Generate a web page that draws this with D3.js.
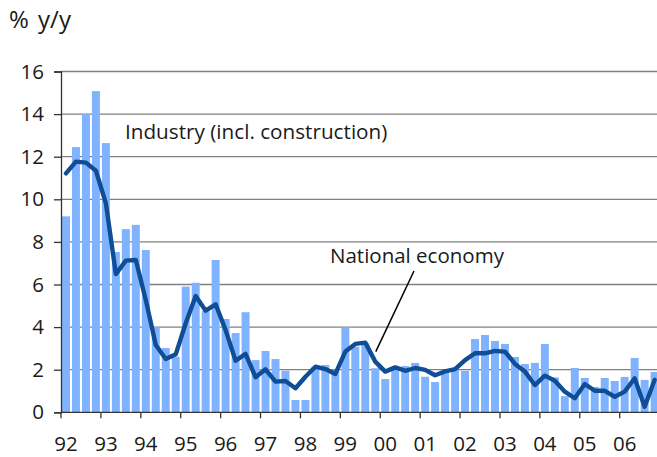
<!DOCTYPE html>
<html>
<head>
<meta charset="utf-8">
<script src="https://cdn.jsdelivr.net/npm/d3@7"></script>
<style>
  body { margin: 0; background: #fff; }
  svg text { font-family: "Open Sans", sans-serif; fill: #1a1a1a; }
  .grid line { stroke: #808080; stroke-width: 1.3; }
</style>
</head>
<body>
<div id="chart"></div>
<script>
// year labels, one per 4 quarters (1992 Q1 .. 2006 Q4)
var years = ["92", "93", "94", "95", "96", "97", "98", "99", "00", "01", "02", "03", "04", "05", "06"];

// Industry (incl. construction), % y/y, quarterly
var industry = [9.2, 12.45, 14.0, 15.08, 12.64, 7.53, 8.6, 8.8,
  7.62, 3.98, 3.02, 2.61, 5.9, 6.08, 4.75, 7.15,
  4.38, 3.72, 4.7, 2.45, 2.88, 2.5, 1.95, 0.58,
  0.58, 2.14, 2.22, 2.0, 3.98, 3.08, 3.24, 2.07,
  1.56, 2.14, 2.17, 2.32, 1.67, 1.42, 1.91, 1.98,
  1.95, 3.44, 3.63, 3.35, 3.21, 2.6, 2.27, 2.32,
  3.21, 1.64, 0.76, 2.08, 1.61, 1.19, 1.61, 1.47,
  1.66, 2.55, 1.52, 1.89];

// National economy, % y/y, quarterly
var national = [11.22, 11.77, 11.72, 11.34, 9.81, 6.49, 7.12, 7.15,
  5.27, 3.16, 2.5, 2.72, 4.18, 5.46, 4.77, 5.07,
  3.86, 2.42, 2.74, 1.65, 2.02, 1.44, 1.47, 1.13,
  1.67, 2.14, 2.03, 1.8, 2.85, 3.21, 3.27, 2.38,
  1.91, 2.11, 1.95, 2.08, 1.99, 1.74, 1.92, 2.03,
  2.45, 2.77, 2.77, 2.88, 2.85, 2.27, 1.91, 1.28,
  1.72, 1.48, 0.97, 0.66, 1.33, 1.01, 1.01, 0.73,
  0.97, 1.6, 0.26, 1.52];

var yTicks = [0, 2, 4, 6, 8, 10, 12, 14, 16];

var W = 657, H = 457;
var plot = {left: 61, right: 659.6, top: 71.5, bottom: 412.3};

var svg = d3.select("#chart").append("svg")
    .attr("width", W)
    .attr("height", H);

var quarters = d3.range(industry.length);

var xScale = d3.scaleBand().domain(quarters).range([plot.left, plot.right])
    .paddingInner(0.2).paddingOuter(0.1);
var step = xScale.step();
// position of the boundary before quarter i
function edge(i) { return plot.left + i * step; }
function mid(i) { return xScale(i) + xScale.bandwidth() / 2; }

var yScale = d3.scaleLinear().domain([0, 16]).range([plot.bottom, plot.top]);

// gridlines
svg.append("g").attr("class", "grid")
  .selectAll("line")
  .data(yTicks.filter(function(d) { return d > 0; }))
  .enter().append("line")
  .attr("x1", plot.left).attr("x2", W)
  .attr("y1", function(d) { return yScale(d); })
  .attr("y2", function(d) { return yScale(d); });

// bars
svg.append("g").selectAll("rect")
  .data(industry)
  .enter().append("rect")
  .attr("x", function(d, i) { return xScale(i); })
  .attr("width", xScale.bandwidth())
  .attr("y", function(d) { return yScale(d); })
  .attr("height", function(d) { return yScale(0) - yScale(d); })
  .attr("fill", "#80b3ff");

// national economy line
var line = d3.line()
  .x(function(d, i) { return mid(i); })
  .y(function(d) { return yScale(d); });

svg.append("path")
  .datum(national)
  .attr("d", line)
  .attr("fill", "none")
  .attr("stroke", "#0f4e96")
  .attr("stroke-width", 4.4)
  .attr("stroke-linejoin", "round")
  .attr("stroke-linecap", "round");

// y axis
var yAxis = d3.axisLeft(yScale).tickValues(yTicks).tickSize(7).tickPadding(10);
var gy = svg.append("g")
  .attr("transform", "translate(" + plot.left + ",0)")
  .call(yAxis);
gy.select(".domain").attr("stroke", "#333").attr("stroke-width", 1.3);
gy.selectAll(".tick line").attr("stroke", "#333").attr("stroke-width", 1.3);
gy.selectAll(".tick text").style("font-size", "20.5px").attr("fill", "#1a1a1a");

// x axis
svg.append("line")
  .attr("x1", plot.left).attr("x2", W)
  .attr("y1", plot.bottom).attr("y2", plot.bottom)
  .attr("stroke", "#333").attr("stroke-width", 1.3);

svg.append("g").selectAll("line")
  .data(years)
  .enter().append("line")
  .attr("x1", function(d, i) { return edge(i * 4); })
  .attr("x2", function(d, i) { return edge(i * 4); })
  .attr("y1", plot.bottom).attr("y2", plot.bottom + 6)
  .attr("stroke", "#333").attr("stroke-width", 1.3);

svg.append("g").selectAll("text")
  .data(years)
  .enter().append("text")
  .attr("x", function(d, i) { return mid(i * 4); })
  .attr("y", 451)
  .attr("text-anchor", "middle")
  .style("font-size", "20.5px")
  .text(function(d) { return d; });

// unit label
svg.append("text")
  .attr("x", 9).attr("y", 28)
  .style("font-size", "24px")
  .style("word-spacing", "3px")
  .text("% y/y");

// annotations
svg.append("text")
  .attr("x", 125).attr("y", 139)
  .style("font-size", "20.7px")
  .text("Industry (incl. construction)");

svg.append("text")
  .attr("x", 330).attr("y", 263)
  .style("font-size", "20.5px")
  .text("National economy");

svg.append("line")
  .attr("x1", 414).attr("y1", 271)
  .attr("x2", mid(31) + 0.5).attr("y2", yScale(national[31]) - 10)
  .attr("stroke", "#000").attr("stroke-width", 1.5);
</script>
</body>
</html>
